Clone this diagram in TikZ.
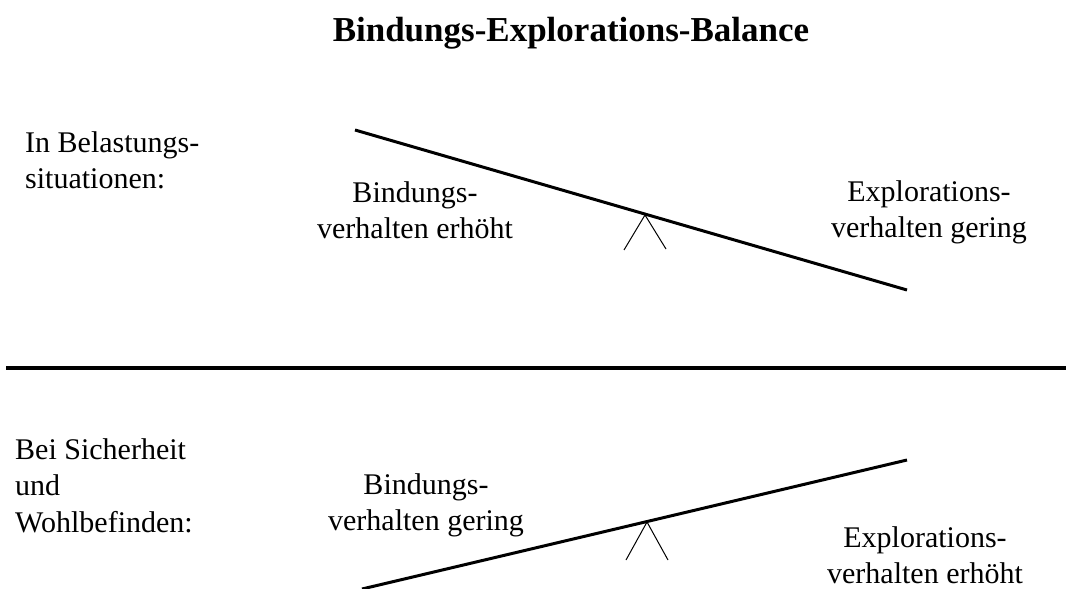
\documentclass[tikz,border=0pt]{standalone}
\usepackage{fontspec}
\setmainfont{Liberation Serif}

\begin{document}
\begin{tikzpicture}[
    x=1pt,
    y=-1pt,
    label/.style={
      inner sep=0pt,
      align=center,
      font=\fontsize{30}{36.5}\selectfont
    },
    sidenote/.style={
      label,
      align=left,
      anchor=north west
    },
    title/.style={
      inner sep=0pt,
      font=\fontsize{35}{42}\selectfont\bfseries
    },
    beam/.style={
      line width=3pt
    },
    pivot/.style={
      line width=1pt
    }
  ]

    \useasboundingbox (0,0) rectangle (1066,589);

    % --- Title
    \node[title, anchor=base] (heading) at (571,41) {Bindungs-Explorations-Balance};

    % --- Upper case: stress
    \node[sidenote] (stress) at (25,131) {In Belastungs-\\situationen:};
    \node[label, anchor=north] (bindhigh) at (415,181) {Bindungs-\\verhalten erhöht};
    \node[label, anchor=north] (explow) at (929,180) {Explorations-\\verhalten gering};

    \draw[beam] (355,130) -- (907,290);
    \draw[pivot] (624,250) -- (645,215) -- (666,249);

    % --- Separation line
    \draw[line width=4.5pt] (6,368) -- (1066,368);

    % --- Lower case: safety
    \node[sidenote] (safe) at (15,438) {Bei Sicherheit\\und\\Wohlbefinden:};
    \node[label, anchor=north] (bindlow) at (426,473) {Bindungs-\\verhalten gering};
    \node[label, anchor=north] (exphigh) at (925,526) {Explorations-\\verhalten erhöht};

    \draw[beam] (362,589) -- (907,460);
    \draw[pivot] (626,560) -- (647,522) -- (668,560);

  \end{tikzpicture}
\end{document}
